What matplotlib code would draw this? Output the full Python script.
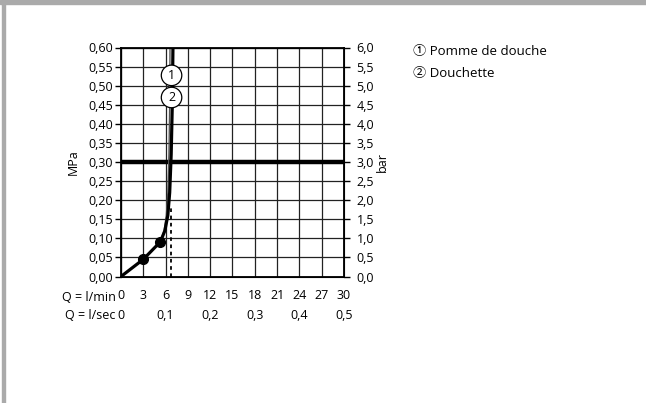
#!/usr/bin/env python3
"""Pressure / flow diagram: Pomme de douche and Douchette."""

import matplotlib
matplotlib.use('Agg')
import matplotlib.pyplot as plt
import matplotlib.patches as mpatches
import matplotlib.transforms as mtransforms
import numpy as np

plt.rcParams['font.family'] = ['Open Sans', 'Noto Sans CJK SC', 'DejaVu Sans']

# ── Data ──
flow_ticks = [0, 3, 6, 9, 12, 15, 18, 21, 24, 27, 30]          # l/min
flow_sec_ticks = [0, 0.1, 0.2, 0.3, 0.4, 0.5]                    # l/sec
flow_sec_labels = ['0', '0,1', '0,2', '0,3', '0,4', '0,5']
mpa_ticks = [0.00, 0.05, 0.10, 0.15, 0.20, 0.25, 0.30, 0.35, 0.40, 0.45, 0.50, 0.55, 0.60]
bar_ticks = [0.0, 0.5, 1.0, 1.5, 2.0, 2.5, 3.0, 3.5, 4.0, 4.5, 5.0, 5.5, 6.0]

# curve 1: Pomme de douche
flow_1 = [0, 3.0, 5.3, 5.8, 6.1, 6.3, 6.45, 6.55, 6.6]
press_1 = [0, 0.045, 0.091, 0.12, 0.16, 0.22, 0.32, 0.45, 0.62]
# curve 2: Douchette
flow_2 = [0, 3.0, 5.3, 5.9, 6.3, 6.55, 6.75, 6.9, 7.0]
press_2 = [0, 0.045, 0.091, 0.12, 0.16, 0.22, 0.32, 0.45, 0.62]
# measured points
dot_flow = [3.0, 5.3]
dot_press = [0.045, 0.091]
# dashed reference flow
ref_flow = 6.7
ref_press = 0.18
# recommended pressure
nominal_press = 0.30

series_names = ['Pomme de douche', 'Douchette']

FS = 9

# ── Figure ──
fig = plt.figure(figsize=(6.46, 4.03), dpi=100)
# grey frame (top and left)
fig.patches.append(mpatches.Rectangle((0, 1 - 4 / 403), 1, 4 / 403, transform=fig.transFigure,
                                      color='#aaaaaa', zorder=0))
fig.patches.append(mpatches.Rectangle((2 / 646, 0), 2.5 / 646, 1, transform=fig.transFigure,
                                      color='#aaaaaa', zorder=0))

ax = fig.add_axes([121 / 646, 126.5 / 403, 223 / 646, 229 / 403])
ax.set_xlim(0, 30)
ax.set_ylim(0, 0.60)

ax.set_xticks(flow_ticks)
ax.set_xticklabels([str(v) for v in flow_ticks], fontsize=FS)
ax.set_yticks(mpa_ticks)
ax.set_yticklabels([f'{v:.2f}'.replace('.', ',') for v in mpa_ticks], fontsize=FS)
ax.tick_params(axis='x', length=0, pad=9)
ax.tick_params(axis='y', length=4, width=1, pad=2, direction='out')
ax.grid(True, color='#222222', linewidth=0.9)
ax.set_axisbelow(True)
for s in ax.spines.values():
    s.set_linewidth(1.3)

ax.set_ylabel('MPa', fontsize=FS, labelpad=6)

# right axis in bar
ax2 = ax.twinx()
ax2.set_ylim(0, 6.0)
ax2.set_yticks(bar_ticks)
ax2.set_yticklabels([f'{v:.1f}'.replace('.', ',') for v in bar_ticks], fontsize=FS)
ax2.tick_params(axis='y', length=4, width=1, pad=5, direction='out')
ax2.set_ylabel('bar', fontsize=FS, labelpad=1, rotation=90)

# row captions
row1_y = -0.09
row2_y = -0.172
ax.text(-0.025, row1_y, 'Q = l/min', transform=ax.transAxes, ha='right', va='center', fontsize=FS)
ax.text(-0.025, row2_y, 'Q = l/sec', transform=ax.transAxes, ha='right', va='center', fontsize=FS)
trans = mtransforms.blended_transform_factory(ax.transData, ax.transAxes)
for v, lab in zip(flow_sec_ticks, flow_sec_labels):
    ax.text(v * 60, row2_y, lab, transform=trans, ha='center', va='center', fontsize=FS)

# lines
ax.axhline(nominal_press, color='black', linewidth=3.2, zorder=3)
ax.plot([ref_flow, ref_flow], [0, ref_press], color='black', linestyle=(0, (2, 2)),
        linewidth=1.3, zorder=3)
ax.plot(flow_1, press_1, color='#555555', linewidth=1.0, zorder=4, clip_on=True)
ax.plot(flow_2, press_2, color='black', linewidth=2.3, zorder=4, clip_on=True)
ax.plot(dot_flow, dot_press, 'o', color='black', markersize=7, zorder=5)

# circled labels on curves
for num, (fx, py) in enumerate([(6.8, 0.527), (6.8, 0.469)], start=1):
    ax.text(fx, py, str(num), ha='center', va='center', fontsize=FS, zorder=6,
            bbox=dict(boxstyle='circle,pad=0.3', facecolor='white', edgecolor='black', linewidth=0.9))

# legend text
circ = ['\u2460', '\u2461']
for i, name in enumerate(series_names):
    fig.text(413 / 646, 1 - (52 + 21 * i) / 403, f'{circ[i]} {name}', ha='left', va='center',
             fontsize=FS + 0.5)

plt.savefig('out.png', dpi=100)
plt.close()
print('Saved out.png')
